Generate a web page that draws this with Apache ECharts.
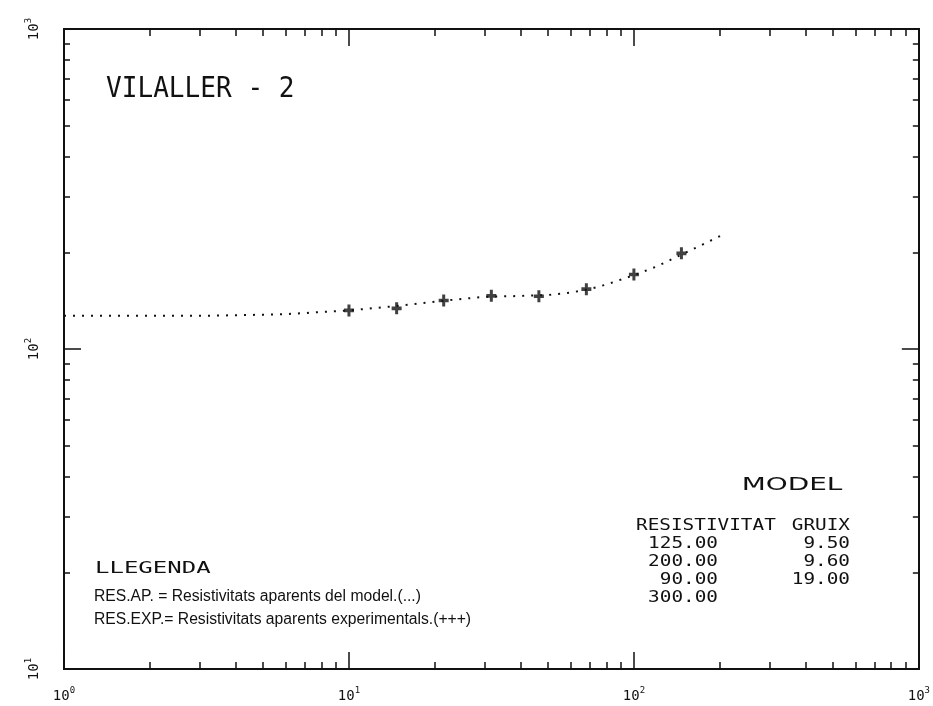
<!DOCTYPE html>
<html>
<head>
<meta charset="utf-8">
<script src="https://cdn.jsdelivr.net/npm/echarts@6/dist/echarts.min.js"></script>
<style>
  html, body { margin: 0; padding: 0; background: #fff; }
  #chart { width: 933px; height: 706px; }
</style>
</head>
<body>
<div id="chart"></div>
<script>
// Sondeig elèctric vertical VILALLER - 2
// Resistivitat aparent (ohm·m) en funció de AB/2 (m), escales logarítmiques

// Corba del model (resistivitats aparents calculades)
const modelAB  = [1, 1.5, 2, 3, 4, 5, 6, 7, 8, 10, 12, 15, 20, 25, 30, 40, 50, 60, 70, 80, 100, 120, 150, 180, 210];
const modelRho = [127, 127, 127, 127, 127.5, 128, 128.5, 129.5, 130.5, 132, 134, 136.5, 140.5, 143.5, 145.5, 146.5, 147.5, 150, 154, 159, 170, 181, 199, 215, 230];

// Mesures de camp (resistivitats aparents experimentals)
const expAB  = [10, 14.7, 21.5, 31.6, 46.4, 68.1, 100, 146.8];
const expRho = [132, 134, 141.8, 146.6, 146.2, 153.8, 171, 199];

// Marques dels eixos
const xDecades = [1, 10, 100, 1000];
const xMinor = [2, 3, 4, 5, 6, 7, 8, 9, 20, 30, 40, 50, 60, 70, 80, 90, 200, 300, 400, 500, 600, 700, 800, 900];
const yDecades = [10, 100, 1000];
const yMinor = [20, 30, 40, 50, 60, 70, 80, 90, 200, 300, 400, 500, 600, 700, 800, 900];

// Model de capes
const layerRho = [125, 200, 90, 300];
const layerThick = [9.5, 9.6, 19];

const INK = '#111111';
const MONO = '"DejaVu Sans Mono", "Liberation Mono", monospace';

const powLabel = v => '{b|10}{s|' + Math.round(Math.log10(v)) + '}';
const labelRich = {
  b: { fontFamily: MONO, fontSize: 14, color: INK },
  s: { fontFamily: MONO, fontSize: 9, color: INK, padding: [0, 0, 12, 0] }
};

function xAxisDef(position, ticks, len, withLabels) {
  return {
    type: 'log', logBase: 10, min: 1, max: 1000, position: position,
    axisLine: { show: true, onZero: false, lineStyle: { color: INK, width: 2 } },
    axisTick: { show: true, inside: true, length: len, customValues: ticks,
                lineStyle: { color: INK, width: 1.5 } },
    axisLabel: withLabels
      ? { show: true, customValues: xDecades, formatter: powLabel, margin: 17, rich: labelRich }
      : { show: false },
    splitLine: { show: false }, minorTick: { show: false }, minorSplitLine: { show: false }
  };
}

function yAxisDef(position, ticks, len, withLabels) {
  return {
    type: 'log', logBase: 10, min: 10, max: 1000, position: position,
    axisLine: { show: true, onZero: false, lineStyle: { color: INK, width: 2 } },
    axisTick: { show: true, inside: true, length: len, customValues: ticks,
                lineStyle: { color: INK, width: 1.5 } },
    axisLabel: withLabels
      ? { show: true, customValues: yDecades, formatter: powLabel, rotate: 90, margin: 19, rich: labelRich }
      : { show: false },
    splitLine: { show: false }, minorTick: { show: false }, minorSplitLine: { show: false }
  };
}

function txt(x, y, text, opts) {
  return {
    type: 'text', x: x, y: y,
    scaleX: opts.sx || 1, scaleY: opts.sy || 1,
    style: {
      text: text, fill: INK,
      font: opts.font,
      textAlign: opts.align || 'left',
      textVerticalAlign: 'middle'
    }
  };
}

const tableFont = '15px ' + MONO;
const noteFont = '16px "Liberation Sans"';
const graphics = [
  txt(106, 89, 'VILALLER - 2', { font: '29px ' + MONO, sx: 0.9 }),
  txt(792, 485, 'MODEL', { font: '18px "DejaVu Sans"', sx: 1.55, align: 'center' }),
  txt(636, 526, 'RESISTIVITAT', { font: tableFont, sx: 1.29 }),
  txt(850, 526, 'GRUIX', { font: tableFont, sx: 1.29, align: 'right' }),
  txt(95, 569, 'LLEGENDA', { font: '16px ' + MONO, sx: 1.5 }),
  txt(94, 597, 'RES.AP. = Resistivitats aparents del model.(...)', { font: noteFont, sx: 0.98 }),
  txt(94, 620, 'RES.EXP.= Resistivitats aparents experimentals.(+++)', { font: noteFont, sx: 0.98 })
];
layerRho.forEach((r, i) => {
  graphics.push(txt(718, 544 + i * 18, r.toFixed(2), { font: tableFont, sx: 1.29, align: 'right' }));
});
layerThick.forEach((t, i) => {
  graphics.push(txt(850, 544 + i * 18, t.toFixed(2), { font: tableFont, sx: 1.29, align: 'right' }));
});

const chart = echarts.init(document.getElementById('chart'), null, { renderer: 'canvas' });
chart.setOption({
  animation: false,
  backgroundColor: '#ffffff',
  grid: { left: 64, right: 5, top: 29, bottom: 37, containLabel: false },
  xAxis: [
    xAxisDef('bottom', xMinor, 7, true),
    xAxisDef('bottom', xDecades, 17, false),
    xAxisDef('top', xMinor, 7, false),
    xAxisDef('top', xDecades, 17, false)
  ],
  yAxis: [
    yAxisDef('left', yMinor, 6, true),
    yAxisDef('left', yDecades, 17, false),
    yAxisDef('right', yMinor, 6, false),
    yAxisDef('right', yDecades, 17, false)
  ],
  graphic: graphics,
  series: [
    {
      name: 'RES.AP.', type: 'line', xAxisIndex: 0, yAxisIndex: 0,
      data: modelAB.map((x, i) => [x, modelRho[i]]),
      symbol: 'none', smooth: false,
      lineStyle: { color: INK, width: 2, type: [2, 7], cap: 'butt' },
      z: 3
    },
    {
      name: 'RES.EXP.', type: 'scatter', xAxisIndex: 0, yAxisIndex: 0,
      data: expAB.map((x, i) => [x, expRho[i]]),
      symbol: 'path://M3.5,0H6.5V3.5H10V6.5H6.5V10H3.5V6.5H0V3.5H3.5Z',
      symbolSize: [10, 12],
      itemStyle: { color: INK },
      z: 4
    }
  ]
});
</script>
</body>
</html>
